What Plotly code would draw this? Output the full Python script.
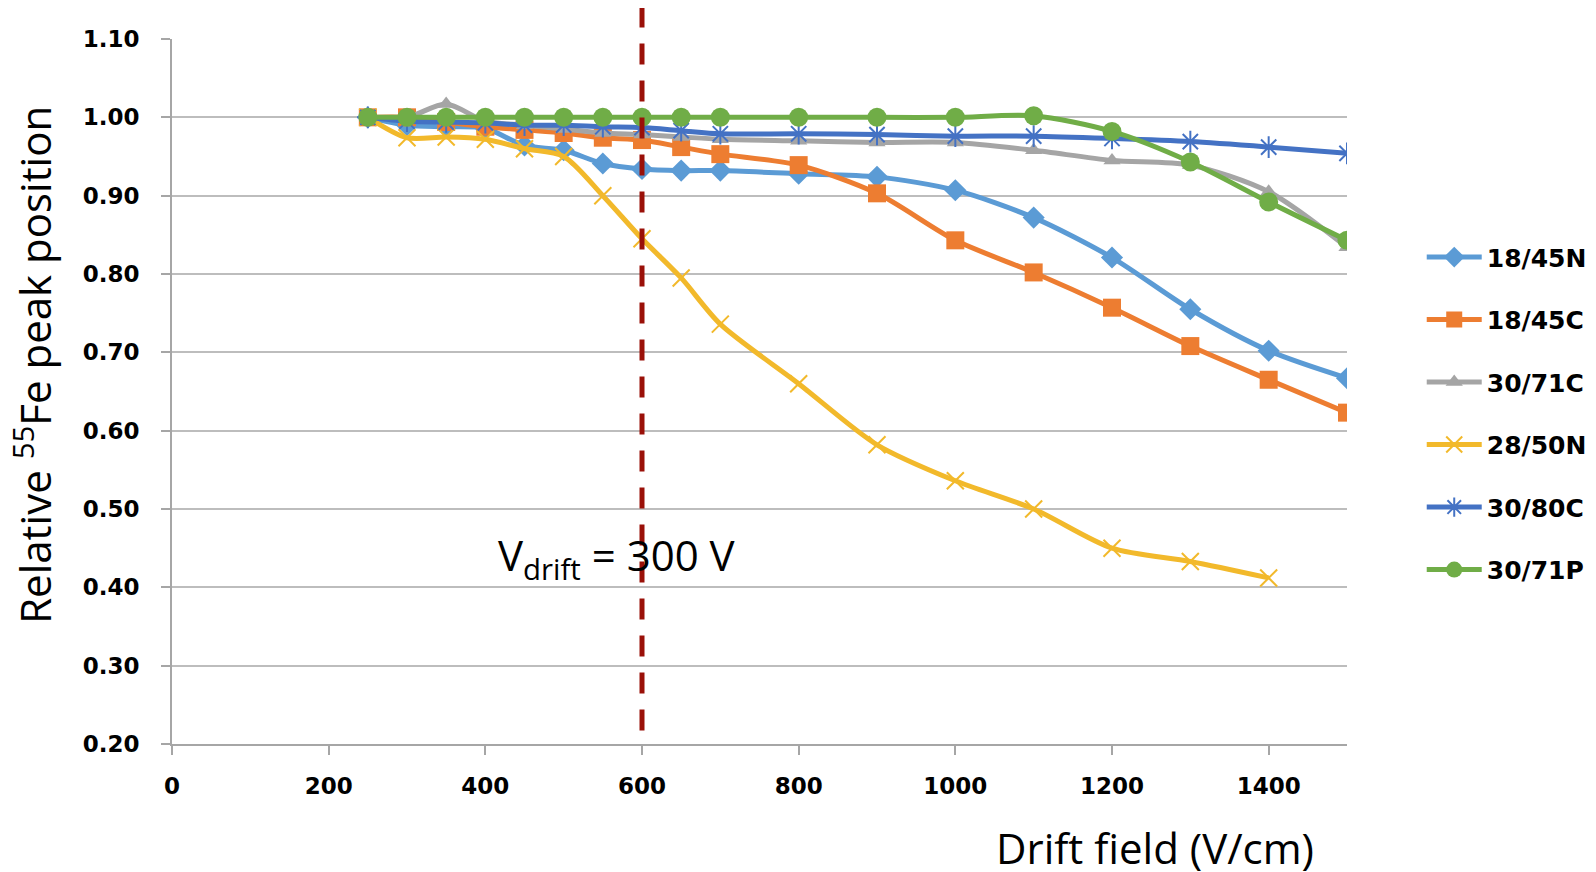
import plotly.graph_objects as go

# ---- data ----
drift_field = [250, 300, 350, 400, 450, 500, 550, 600, 650, 700,
               800, 900, 1000, 1100, 1200, 1300, 1400, 1500]
series_names = ["18/45N", "18/45C", "30/71C", "28/50N", "30/80C", "30/71P"]
s18_45N = [1.00, 0.99, 0.988, 0.986, 0.964, 0.958, 0.941, 0.934, 0.932, 0.932,
           0.928, 0.924, 0.907, 0.872, 0.821, 0.755, 0.702, 0.667]
s18_45C = [1.00, 1.00, 0.994, 0.988, 0.984, 0.980, 0.974, 0.971, 0.962, 0.953,
           0.939, 0.903, 0.843, 0.802, 0.757, 0.708, 0.665, 0.623]
s30_71C = [1.00, 1.00, 1.017, 0.995, 0.990, 0.985, 0.980, 0.978, 0.975, 0.972,
           0.970, 0.968, 0.968, 0.958, 0.945, 0.939, 0.905, 0.834]
s28_50N = [1.00, 0.974, 0.975, 0.972, 0.960, 0.950, 0.900, 0.845, 0.795, 0.736,
           0.660, 0.582, 0.536, 0.500, 0.450, 0.433, 0.412]
s30_80C = [1.00, 0.995, 0.994, 0.993, 0.990, 0.990, 0.988, 0.987, 0.983, 0.979,
           0.979, 0.978, 0.976, 0.976, 0.973, 0.969, 0.962, 0.954]
s30_71P = [1.00, 1.00, 1.00, 1.00, 1.00, 1.00, 1.00, 1.00, 1.00, 1.00,
           1.00, 1.00, 1.00, 1.002, 0.982, 0.943, 0.892, 0.843]
series_values = [s18_45N, s18_45C, s30_71C, s28_50N, s30_80C, s30_71P]
x_ticks = [0, 200, 400, 600, 800, 1000, 1200, 1400]
y_ticks = [0.20, 0.30, 0.40, 0.50, 0.60, 0.70, 0.80, 0.90, 1.00, 1.10]
vdrift_x = 600

# ---- styles ----
colors = ["#5B9BD5", "#ED7D31", "#A5A5A5", "#F2B92B", "#4472C4", "#70AD47"]
symbols = ["diamond", "square", "triangle-up", "x-thin-open", "asterisk-open", "circle"]
msizes = [17, 18, 15, 17, 18, 19]

fig = go.Figure()
for i, (name, vals) in enumerate(zip(series_names, series_values)):
    line_marker = symbols[i].endswith("-open")
    fig.add_trace(go.Scatter(
        x=drift_field[:len(vals)], y=vals, name=name,
        mode="lines+markers",
        line=dict(color=colors[i], width=5, shape="spline", smoothing=0.8),
        marker=dict(symbol=symbols[i], size=msizes[i], color=colors[i],
                    line=dict(color=colors[i], width=2 if line_marker else 0)),
        legendgroup=name,
    ))

# vertical dashed line
fig.add_shape(type="line", xref="x", yref="paper",
              x0=vdrift_x, x1=vdrift_x, y0=1.046, y1=0.0,
              line=dict(color="#9A1008", width=5, dash="21px,16px"))

title_font = dict(family="Open Sans, Lato, sans-serif", size=42, color="black")

fig.add_annotation(x=568, y=0.438, xref="x", yref="y",
                   text="V<sub>drift</sub> = 300 V", showarrow=False,
                   xanchor="center", yanchor="middle", font=title_font)

fig.add_annotation(x=-0.1185, y=0.5375, xref="paper", yref="paper",
                   text="Relative <sup>55</sup>Fe peak position", textangle=-90,
                   showarrow=False, xanchor="center", yanchor="middle",
                   font=title_font)

fig.add_annotation(x=0.837, y=-0.147, xref="paper", yref="paper",
                   text="Drift field (V/cm)", showarrow=False,
                   xanchor="center", yanchor="middle", font=title_font)

tick_font = dict(family="DejaVu Sans, Verdana, sans-serif", size=23,
                 color="black", weight="bold")

fig.update_xaxes(range=[0, 1500], tickvals=x_ticks, showgrid=False,
                 showline=True, linecolor="#A6A6A6", linewidth=2,
                 ticks="outside", ticklen=9, tickcolor="#A6A6A6", tickwidth=2,
                 tickfont=tick_font, ticklabelstandoff=11, zeroline=False)
fig.update_yaxes(range=[0.2, 1.1], tickvals=y_ticks, tickformat=".2f",
                 showgrid=True, gridcolor="#BDBDBD", gridwidth=2,
                 showline=True, linecolor="#A6A6A6", linewidth=2,
                 ticks="outside", ticklen=9, tickcolor="#A6A6A6", tickwidth=2,
                 tickfont=tick_font, ticklabelstandoff=17, zeroline=False)

fig.update_layout(
    width=1596, height=872,
    margin=dict(l=164, r=257, t=31, b=136, autoexpand=False),
    paper_bgcolor="white", plot_bgcolor="white",
    showlegend=True,
    legend=dict(x=1.0636, y=0.723, xanchor="left", yanchor="top",
                font=dict(family="DejaVu Sans, Verdana, sans-serif", size=25,
                          color="black", weight="bold"),
                traceorder="grouped", tracegroupgap=27, itemwidth=55,
                bgcolor="rgba(0,0,0,0)"),
)

fig.write_html("out.html")
